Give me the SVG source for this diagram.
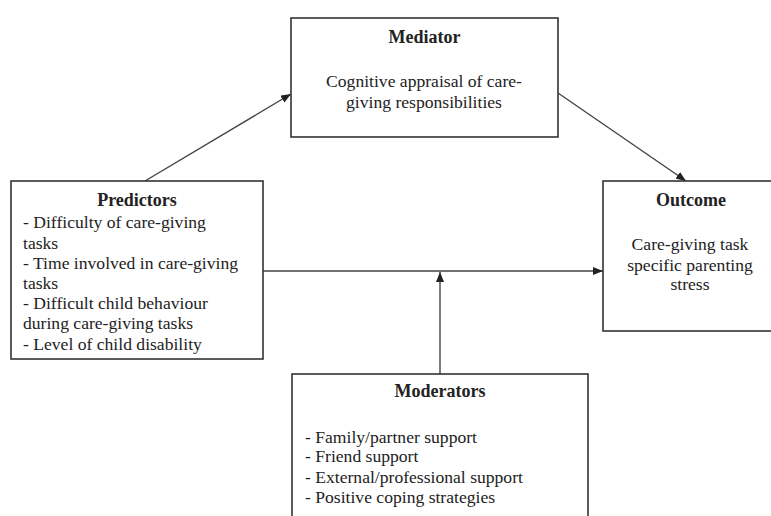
<svg xmlns="http://www.w3.org/2000/svg" width="771" height="516" viewBox="0 0 771 516">
<style>
.box{fill:#fff;stroke:#333;stroke-width:1.6}
.t{font-family:"Liberation Serif","Times New Roman",serif;fill:#222}
.title{font-size:18px;font-weight:bold;text-anchor:middle}
.body{font-size:17.6px}
.c{text-anchor:middle}
.conn line{stroke:#444;stroke-width:1.4;fill:none}
</style>
<defs>
<marker id="ah" markerUnits="userSpaceOnUse" markerWidth="10" markerHeight="8" refX="10" refY="4" orient="auto">
<path d="M0,0 L10,4 L0,8 z" fill="#222"/>
</marker>
</defs>
<rect width="771" height="516" fill="#fff"/>
<g id="connectors" class="conn">
<line x1="145" y1="181" x2="291" y2="94" marker-end="url(#ah)"/>
<line x1="558" y1="93" x2="686" y2="181" marker-end="url(#ah)"/>
<line x1="263" y1="271" x2="603" y2="271" marker-end="url(#ah)"/>
<line x1="440" y1="374" x2="440" y2="272" marker-end="url(#ah)"/>
</g>
<g id="mediator">
<rect class="box" x="291" y="18" width="267" height="119"/>
<text class="t title" x="424.5" y="43">Mediator</text>
<text class="t body c" x="424" y="87">Cognitive appraisal of care-</text>
<text class="t body c" x="424" y="108">giving responsibilities</text>
</g>
<g id="predictors">
<rect class="box" x="11" y="181" width="252" height="178"/>
<text class="t title" x="137" y="206">Predictors</text>
<text class="t body" x="23" y="228">- Difficulty of care-giving</text>
<text class="t body" x="23" y="249">tasks</text>
<text class="t body" x="23" y="269">- Time involved in care-giving</text>
<text class="t body" x="23" y="289">tasks</text>
<text class="t body" x="23" y="309">- Difficult child behaviour</text>
<text class="t body" x="23" y="329">during care-giving tasks</text>
<text class="t body" x="23" y="350">- Level of child disability</text>
</g>
<g id="outcome">
<rect class="box" x="603" y="181" width="176" height="150"/>
<text class="t title" x="691" y="206">Outcome</text>
<text class="t body c" x="690" y="250">Care-giving task</text>
<text class="t body c" x="690" y="271">specific parenting</text>
<text class="t body c" x="690" y="290">stress</text>
</g>
<g id="moderators">
<rect class="box" x="292" y="374" width="296" height="160"/>
<text class="t title" x="440" y="397">Moderators</text>
<text class="t body" x="305" y="443">- Family/partner support</text>
<text class="t body" x="305" y="462">- Friend support</text>
<text class="t body" x="305" y="483">- External/professional support</text>
<text class="t body" x="305" y="503">- Positive coping strategies</text>
</g>
</svg>
